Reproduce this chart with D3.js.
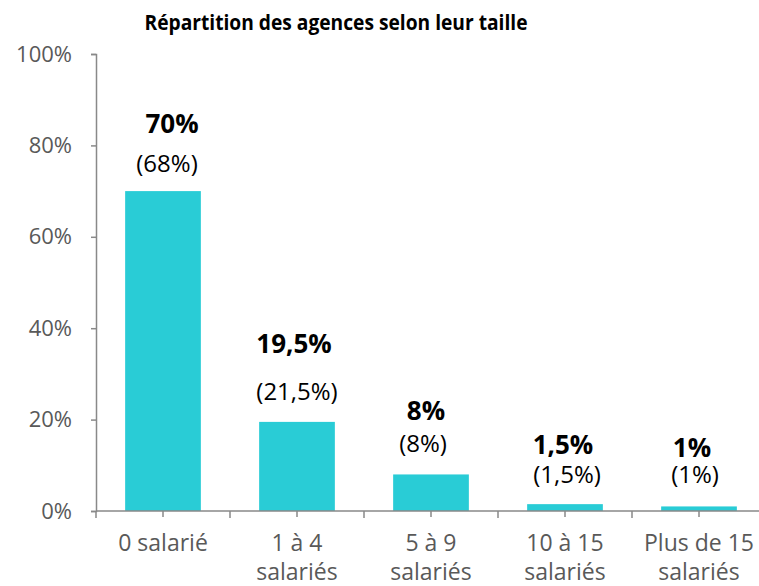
<!DOCTYPE html>
<html>
<head>
<meta charset="utf-8">
<script src="https://cdn.jsdelivr.net/npm/d3@7"></script>
<style>
  body { margin: 0; background: #fff; }
  svg { font-family: "Open Sans", sans-serif; }
</style>
</head>
<body>
<svg id="chart" width="759" height="586"></svg>
<script>
// data
var categories = ["0 salarié", "1 à 4|salariés", "5 à 9|salariés", "10 à 15|salariés", "Plus de 15|salariés"];
var values = [70, 19.5, 8, 1.5, 1];
var valueLabels = ["70%", "19,5%", "8%", "1,5%", "1%"];
var prevLabels = ["(68%)", "(21,5%)", "(8%)", "(1,5%)", "(1%)"];
var yTicks = [0, 20, 40, 60, 80, 100];

// label layout: baseline lift above bar top, horizontal shift from bar centre (px)
var boldLift = [58, 69, 54, 50, 49];
var boldShift = [9, -3, -5, -2, -7];
var prevLift = [19, 22, 22, 21, 23];
var prevShift = [4, 0, -8, 2, -4];

var svg = d3.select("#chart"),
  margin = {top: 54, right: -7, bottom: 75, left: 96},
  width = 759 - margin.left - margin.right,
  height = 586 - margin.top - margin.bottom;

var g = svg.append("g").attr("transform", "translate(" + margin.left + "," + margin.top + ")");

var x = d3.scaleBand()
  .domain(categories)
  .range([0, width])
  .paddingInner(0.435)
  .paddingOuter(0.2175);

var y = d3.scaleLinear()
  .domain([0, 100])
  .range([height, 0]);

function mid(c) { return x(c) + x.bandwidth() / 2; }

// title
svg.append("text")
  .attr("x", 336)
  .attr("y", 30)
  .attr("text-anchor", "middle")
  .attr("font-weight", "bold")
  .attr("font-size", 21)
  .attr("fill", "#000")
  .attr("textLength", 383)
  .attr("lengthAdjust", "spacingAndGlyphs")
  .text("Répartition des agences selon leur taille");

// y axis
var yAxis = g.append("g")
  .call(d3.axisLeft(y).tickValues(yTicks).tickSize(5).tickPadding(19).tickFormat(function(d){ return d + "%"; }));
yAxis.selectAll("path, line").attr("stroke", "#898989").attr("stroke-width", 1.5);
yAxis.selectAll("text").attr("font-size", 22).attr("fill", "#595959").attr("font-family", "'Open Sans', sans-serif");

// bars
g.selectAll("rect.bar")
  .data(values)
  .enter()
  .append("rect")
    .attr("class", "bar")
    .attr("x", function(d, i) { return x(categories[i]); })
    .attr("y", function(d) { return y(d); })
    .attr("width", x.bandwidth())
    .attr("height", function(d) { return height - y(d); })
    .attr("fill", "#29ccd6");

// x axis: ticks at band edges and centres
var step = x.step();
var edges = categories.map(function(c) { return x(c) - x.paddingInner() * step / 2; });
var xa = g.append("g").attr("transform", "translate(0," + height + ")");
xa.append("line")
  .attr("x1", 0).attr("x2", width)
  .attr("stroke", "#898989").attr("stroke-width", 1.5);
xa.selectAll("line.edge")
  .data(edges)
  .enter()
  .append("line")
    .attr("x1", function(d) { return d; })
    .attr("x2", function(d) { return d; })
    .attr("y1", 0).attr("y2", 7)
    .attr("stroke", "#898989").attr("stroke-width", 1.5);
xa.selectAll("line.mid")
  .data(categories)
  .enter()
  .append("line")
    .attr("x1", mid)
    .attr("x2", mid)
    .attr("y1", 0).attr("y2", 6)
    .attr("stroke", "#898989").attr("stroke-width", 1.5);

var labels = xa.selectAll("text.cat")
  .data(categories)
  .enter()
  .append("text")
    .attr("class", "cat")
    .attr("text-anchor", "middle")
    .attr("font-size", 23)
    .attr("fill", "#595959")
    .attr("transform", function(d) { return "translate(" + mid(d) + ",40)"; });
labels.each(function(d) {
  var parts = d.split("|");
  var t = d3.select(this);
  parts.forEach(function(p, k) {
    t.append("tspan").attr("x", 0).attr("dy", k === 0 ? 0 : 29).text(p);
  });
});

// value labels
g.selectAll("text.val")
  .data(values)
  .enter()
  .append("text")
    .attr("class", "val")
    .attr("text-anchor", "middle")
    .attr("font-weight", "bold")
    .attr("font-size", 26)
    .attr("fill", "#000")
    .attr("x", function(d, i) { return mid(categories[i]) + boldShift[i]; })
    .attr("y", function(d, i) { return y(d) - boldLift[i]; })
    .text(function(d, i) { return valueLabels[i]; });

g.selectAll("text.prev")
  .data(values)
  .enter()
  .append("text")
    .attr("class", "prev")
    .attr("text-anchor", "middle")
    .attr("font-size", 24)
    .attr("fill", "#000")
    .attr("x", function(d, i) { return mid(categories[i]) + prevShift[i]; })
    .attr("y", function(d, i) { return y(d) - prevLift[i]; })
    .text(function(d, i) { return prevLabels[i]; });
</script>
</body>
</html>
